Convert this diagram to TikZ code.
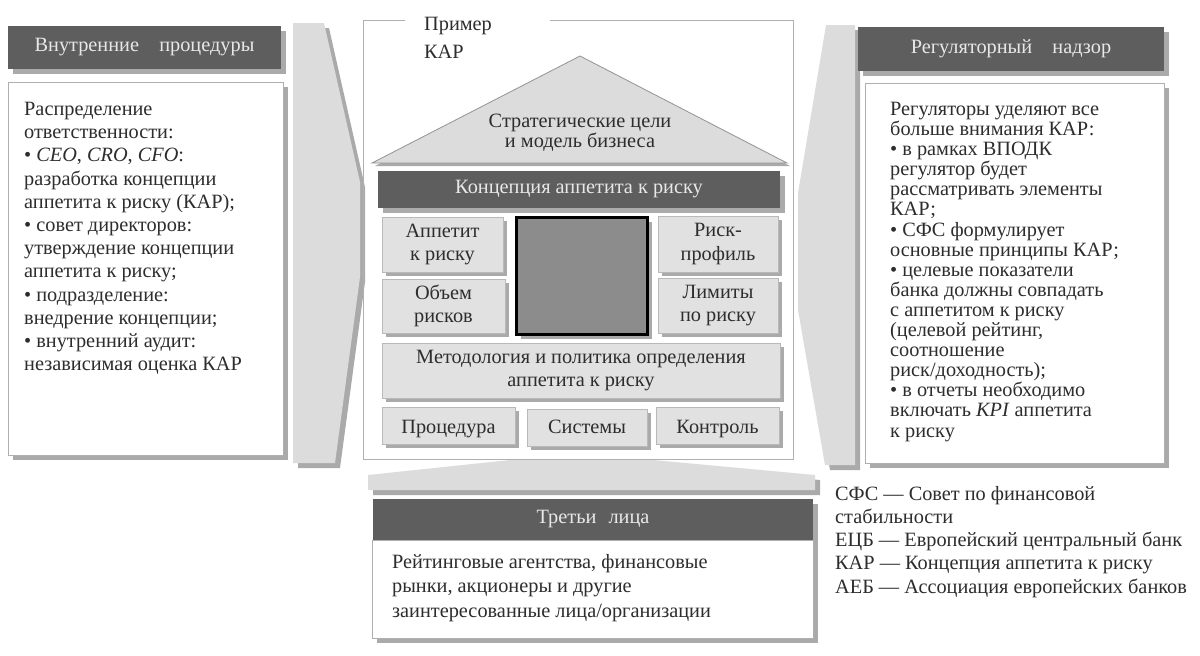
\documentclass[tikz,border=0pt]{standalone}
\usepackage{fontspec}
\setmainfont{Liberation Serif}
\usetikzlibrary{shadows}
\definecolor{darkbar}{RGB}{94,94,94}
\definecolor{hdrtext}{RGB}{232,232,232}
\definecolor{shadowc}{RGB}{170,170,170}
\definecolor{boxfill}{RGB}{225,225,225}
\definecolor{boxborder}{RGB}{185,185,185}
\definecolor{chevfill}{RGB}{220,220,220}
\definecolor{framec}{RGB}{175,175,175}
\definecolor{squarec}{RGB}{140,140,140}
\definecolor{txt}{RGB}{45,45,45}
\tikzset{
  shad/.style={drop shadow={shadow xshift=#1, shadow yshift=-#1, fill=shadowc, opacity=1}},
  hdr/.style={fill=darkbar, draw=none, text=hdrtext, shad=5pt},
  panel/.style={fill=white, draw=framec, line width=0.8pt, shad=5pt},
  smallbox/.style={fill=boxfill, draw=boxborder, line width=0.6pt, shad=4pt, align=center},
  chev/.style={fill=chevfill, draw=none},
  chevshad/.style={fill=shadowc, draw=none},
  bodytext/.style={anchor=north west, align=left},
}
\begin{document}
\begin{tikzpicture}[x=1pt,y=-1pt, every node/.style={inner sep=0pt, text=txt, font=\fontsize{20.3}{23.2}\selectfont}]
\useasboundingbox[fill=white] (0,0) rectangle (1200,656);

% left chevron
\fill[chevshad] (298,28) -- (329,28) -- (365,187) -- (365,282) -- (340,468) -- (298,468) -- cycle;
\fill[chev] (293,23) -- (324,23) -- (360,182) -- (360,277) -- (335,463) -- (293,463) -- cycle;
% right chevron
\fill[chevshad] (831,30) -- (860,30) -- (860,470) -- (830,470) -- (803,315) -- (803,198) -- cycle;
\fill[chev] (826,25) -- (855,25) -- (855,465) -- (825,465) -- (798,310) -- (798,193) -- cycle;
% bottom arrow
\fill[chevshad] (373,495) -- (373,480) -- (515,465) -- (658,465) -- (820,480) -- (820,495) -- cycle;
\fill[chev] (368,490) -- (368,475) -- (510,460) -- (653,460) -- (815,475) -- (815,490) -- cycle;

% left side
\node[hdr, minimum width=273pt, minimum height=43pt] (lh) at (144.5,47.5) {Внутренние\hspace{1.0em}процедуры};
\node[panel, minimum width=275pt, minimum height=373pt] (lp) at (145.5,268.5) {};
\node[bodytext] (lt) at (24,102) {Распределение\\ответственности:\\• \textit{CEO}, \textit{CRO}, \textit{CFO}:\\разработка концепции\\аппетита к риску (КАР);\\• совет директоров:\\утверждение концепции\\аппетита к риску;\\• подразделение:\\внедрение концепции;\\• внутренний аудит:\\независимая оценка КАР};

% center frame
\coordinate (f1) at (405,20);
\coordinate (f2) at (550,20);
\draw[framec, line width=1pt] (f1) -- (363,20) -- (363,459) -- (793,459) -- (793,20) -- (f2);
\node[anchor=north west, align=left, font=\fontsize{20.3}{28.5}\selectfont] (ex) at (424,17) {Пример\\КАР};

% roof
\fill[shadowc] (583,59) -- (790,166) -- (375,166) -- cycle;
\draw[fill=chevfill, draw=gray!85, line width=0.8pt] (580,56) -- (787,163) -- (372,163) -- cycle;
\node[align=center, font=\fontsize{20.3}{18.5}\selectfont] (roof) at (580,133) {Стратегические цели\\и модель бизнеса};

\node[hdr, minimum width=402pt, minimum height=37pt] (kap) at (579,189.5) {Концепция аппетита к риску};

\node[smallbox, minimum width=121pt, minimum height=55pt] (app) at (442.5,244.5) {Аппетит\\к риску};
\node[smallbox, minimum width=123pt, minimum height=54pt] (vol) at (443.5,306) {Объем\\рисков};
\node[fill=squarec, draw=black, line width=3pt, shad=5pt, minimum width=131pt, minimum height=117pt] (sq) at (581.5,275.5) {};
\node[smallbox, minimum width=120pt, minimum height=56pt] (prof) at (718,244) {Риск-\\профиль};
\node[smallbox, minimum width=120pt, minimum height=55pt] (lim) at (718,305.5) {Лимиты\\по риску};
\node[smallbox, minimum width=398pt, minimum height=55pt] (met) at (581,370.5) {Методология и политика определения\\аппетита к риску};
\node[smallbox, minimum width=133pt, minimum height=37pt, text height=18pt, text depth=3pt] (proc) at (448.5,425.5) {Процедура};
\node[smallbox, minimum width=120pt, minimum height=37pt, text height=16pt, text depth=4pt] (sys) at (587,427.5) {Системы};
\node[smallbox, minimum width=123pt, minimum height=37pt, text height=18pt, text depth=3pt] (ctl) at (717.5,425.5) {Контроль};

% bottom
\node[hdr, minimum width=440pt, minimum height=41pt] (th) at (593,519.5) {Третьи\hspace{0.6em}лица};
\node[panel, minimum width=441pt, minimum height=98pt] (tp) at (592.5,589) {};
\node[bodytext, font=\fontsize{20.3}{24.5}\selectfont] (tt) at (392,554) {Рейтинговые агентства, финансовые\\рынки, акционеры и другие\\заинтересованные лица/организации};

% right side
\node[hdr, minimum width=306pt, minimum height=44pt] (rh) at (1011,49) {Регуляторный\hspace{1.0em}надзор};
\node[panel, minimum width=299pt, minimum height=380pt] (rp) at (1014.5,273) {};
\node[bodytext, font=\fontsize{20.3}{20.1}\selectfont] (rt) at (890,102) {Регуляторы уделяют все\\больше внимания КАР:\\• в рамках ВПОДК\\регулятор будет\\рассматривать элементы\\КАР;\\• СФС формулирует\\основные принципы КАР;\\• целевые показатели\\банка должны совпадать\\с аппетитом к риску\\(целевой рейтинг,\\соотношение\\риск/доходность);\\• в отчеты необходимо\\включать \textit{KPI} аппетита\\к риску};

% legend
\node[bodytext] (leg) at (835,486) {СФС — Совет по финансовой\\стабильности\\ЕЦБ — Европейский центральный банк\\КАР — Концепция аппетита к риску\\АЕБ — Ассоциация европейских банков};
\end{tikzpicture}
\end{document}
